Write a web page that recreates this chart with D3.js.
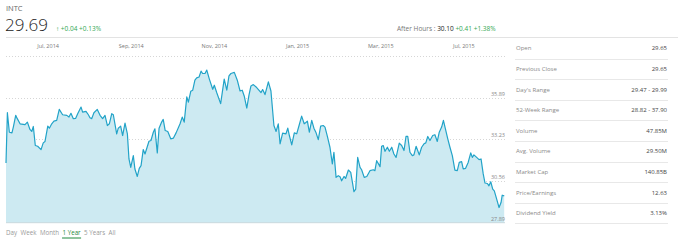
<!DOCTYPE html>
<html>
<head>
<meta charset="utf-8">
<script src="https://cdnjs.cloudflare.com/ajax/libs/d3/7.8.5/d3.min.js"></script>
<style>
  body { margin: 0; background: #fff; }
  svg { font-family: "Open Sans", "Noto Sans", sans-serif; display: block; }
</style>
</head>
<body>
<svg id="chart" width="678" height="245"></svg>
<script>
// trading day index (0 = first day shown) and closing price
const days = [0,0.7,1.7,3,3.7,4.9,5.7,7.1,9.6,10.8,12.1,13,13.8,14.8,16,17.7,18.8,19.7,21.1,21.9,
  23.1,24.2,25.6,26.9,28.6,30.7,31.8,32.8,34,35.2,36.2,37.9,38.7,40.4,41.6,42.4,43.3,44.4,46.1,47.5,
  48.8,50,51.2,52.2,53.4,54.2,55.9,56.7,57.9,58.9,60.1,61.3,62.1,63,64.3,65.1,66.3,67.3,68.2,69.3,
  70.2,72.2,73.2,74.4,75.2,76.4,77.3,78.6,79.4,80.4,81.7,83.2,84.5,85.9,87.9,89,90,91.3,92.1,93.3,
  94.3,95.4,96.3,97.5,98.5,99.3,100.5,101.4,102.7,104.4,105.2,106.4,108.4,110.2,111.5,112.6,113.6,115.3,116.8,118.2,
  119.3,120.3,121.6,122.7,123.7,124.9,126.6,128.8,129.6,130.8,132.5,133.8,135.3,136.4,137.5,138.4,139.7,141.4,142.3,143.1,
  144.3,145.6,146.8,148,149.3,150.6,151.3,152.2,153.2,154.4,155.5,156.6,157.7,158.9,160.2,161.1,162.3,163.6,164.8,165.6,
  166.7,167.8,168.7,169.5,170.7,171.5,172.9,174.1,175.1,175.7,176.6,177.6,178.8,179.6,180.9,182.2,183.8,185.5,186.3,187.2,
  188.9,189.7,190.5,191.4,192.6,193.6,194.8,195.9,197,198.6,199.8,201,202,202.9,204,205.2,206,207.1,207.9,208.7,
  209.9,211.1,212,213,214.1,215.5,216.6,217.8,218.8,220,220.9,221.7,223.1,224.2,225.4,226.7,227.9,228.9,230.1,230.9,
  232.1,233.4,234.7,235.5,236.3,237.7,238.9,239.9,241,241.9,243.1,243.9,244.8,245.8,246.6,247.8,249,250,250.6,251.6];
const prices = [31.71,34.93,33.68,33.64,34.01,34.76,34.55,34.22,34.17,34.33,33.86,33.73,34.05,32.83,32.78,32.57,33.00,33.09,34.07,33.94,
  34.22,34.39,34.44,35.14,34.80,34.76,34.65,34.89,34.55,34.57,34.87,35.29,34.97,35.02,34.80,34.61,34.55,34.93,35.14,34.76,
  34.55,34.76,34.11,34.22,34.87,34.80,33.58,33.94,34.07,33.47,34.26,33.58,31.97,31.43,32.18,31.33,30.85,31.37,31.54,32.57,
  32.29,33.10,33.15,33.68,33.90,32.36,33.94,34.33,34.50,33.79,33.73,33.26,33.30,33.64,34.22,34.65,34.33,35.94,35.61,36.30,
  36.37,37.01,37.16,37.22,37.59,37.44,37.44,37.66,37.08,36.43,36.69,36.22,35.51,37.08,36.37,37.29,37.44,37.51,37.01,36.32,
  36.37,36.00,35.23,36.05,36.64,36.73,36.54,36.22,36.41,36.09,36.90,36.32,34.11,33.73,34.22,32.94,33.62,33.58,33.94,33.47,
  32.87,33.64,33.58,34.11,34.71,34.22,34.29,34.39,33.68,34.44,33.94,33.64,33.21,34.07,34.11,34.01,33.41,32.72,31.65,32.40,
  30.79,30.90,30.83,30.57,30.85,30.72,31.26,31.11,30.36,29.87,30.04,32.07,31.43,31.28,30.79,30.85,31.22,31.28,31.22,31.86,
  31.48,32.78,32.83,32.46,32.72,32.46,32.72,32.29,32.07,32.98,32.83,32.51,33.41,33.41,32.40,32.18,32.23,32.78,32.51,32.23,
  32.72,32.94,33.00,33.41,33.15,33.47,33.52,33.09,33.68,34.01,34.44,34.01,33.26,32.72,32.18,31.26,31.22,31.75,31.80,31.33,
  31.37,31.75,32.36,32.07,32.23,32.07,31.93,31.97,31.01,30.43,30.40,30.25,30.51,30.04,29.93,29.40,28.86,29.18,29.65,29.61];

const xTickDays = [21, 63, 105, 147, 189, 231];
const xTickLabels = ["Jul, 2014", "Sep, 2014", "Nov, 2014", "Jan, 2015", "Mar, 2015", "Jul, 2015"];
const yTicks = [27.89, 30.56, 33.23, 35.89, 38.56];
const yTickLabels = ["27.89", "30.56", "33.23", "35.89", ""];

const statLabels = ["Open", "Previous Close", "Day's Range", "52-Week Range", "Volume",
  "Avg. Volume", "Market Cap", "Price/Earnings", "Dividend Yield"];
const statValues = ["29.65", "29.65", "29.47 - 29.99", "28.82 - 37.90", "47.85M",
  "29.50M", "140.85B", "12.63", "3.13%"];
const rangeTabs = ["Day", "Week", "Month", "1 Year", "5 Years", "All"];
const activeTab = "1 Year";

const green = "#34a853";
const svg = d3.select("#chart");

// header
svg.append("text").attr("x", 6).attr("y", 11).attr("font-size", 7.5).attr("fill", "#666").text("INTC");
const bigPrice = svg.append("text").attr("x", 5).attr("y", 31).attr("font-size", 17)
  .attr("font-weight", 300).attr("fill", "#222").text("29.69");
const bpW = bigPrice.node().getComputedTextLength();
svg.append("text").attr("x", 5 + bpW + 8).attr("y", 31).attr("font-size", 6.5).attr("fill", green)
  .text("\u2191  +0.04  +0.13%");

const ah = svg.append("text").attr("x", 397).attr("y", 31).attr("font-size", 6.5);
ah.append("tspan").attr("fill", "#777").text("After Hours : ");
ah.append("tspan").attr("fill", "#222").text("30.10 ");
ah.append("tspan").attr("fill", green).text(" +0.41  +1.38%");

svg.append("line").attr("x1", 6).attr("x2", 678).attr("y1", 37.5).attr("y2", 37.5)
  .attr("stroke", "#e3e3e3");

// chart
const margin = { left: 6, right: 173, top: 56, bottom: 23 };
const innerRight = 678 - margin.right;
const innerBottom = 245 - margin.bottom + 0.7;

const xScale = d3.scaleLinear().domain([0, 252]).range([margin.left, innerRight]);
const yScale = d3.scaleLinear().domain([27.89, 38.56]).range([innerBottom, margin.top]);

const data = days.map((d, i) => ({ day: d, price: prices[i] }));

const grid = svg.append("g").attr("class", "grid");
grid.selectAll("line").data(yTicks.slice(1)).join("line")
  .attr("x1", margin.left).attr("x2", innerRight)
  .attr("y1", d => Math.round(yScale(d)) + 0.5).attr("y2", d => Math.round(yScale(d)) + 0.5)
  .attr("stroke", "#d6d6d6").attr("stroke-dasharray", "1,2");

const area = d3.area().x(d => xScale(d.day)).y0(yScale(27.89)).y1(d => yScale(d.price));
const line = d3.line().x(d => xScale(d.day)).y(d => yScale(d.price));

svg.append("path").datum(data).attr("d", area).attr("fill", "#cdeaf2");
svg.append("path").datum(data).attr("d", line).attr("fill", "none")
  .attr("stroke", "#22a3c8").attr("stroke-width", 1.2).attr("stroke-linejoin", "round");

svg.append("line").attr("x1", margin.left).attr("x2", innerRight)
  .attr("y1", innerBottom).attr("y2", innerBottom).attr("stroke", "#c9d9de");

// y labels sit just above their gridline
svg.append("g").selectAll("text").data(yTicks).join("text")
  .attr("x", innerRight).attr("y", d => yScale(d) - 2)
  .attr("text-anchor", "end").attr("font-size", 5.5).attr("fill", "#888")
  .text((d, i) => yTickLabels[i]);

// x labels along the top
const xAxis = d3.axisTop(xScale).tickValues(xTickDays)
  .tickFormat((d, i) => xTickLabels[i]).tickSize(0).tickPadding(0);
const xAxisG = svg.append("g").attr("transform", "translate(0,48)").call(xAxis);
xAxisG.select(".domain").remove();
xAxisG.selectAll("text").attr("font-size", 5.5).attr("fill", "#777")
  .attr("font-family", "'Open Sans', sans-serif");

// stats panel
const rowH = 20.6;
const statsTop = 38;
const stats = svg.append("g").attr("class", "stats");
statLabels.forEach((lab, i) => {
  const cy = statsTop + rowH * i + rowH / 2;
  stats.append("text").attr("x", 516).attr("y", cy + 2).attr("font-size", 6)
    .attr("fill", "#8a8a8a").text(lab);
  stats.append("text").attr("x", 667).attr("y", cy + 2).attr("font-size", 6)
    .attr("text-anchor", "end").attr("fill", "#444").text(statValues[i]);
  stats.append("line").attr("x1", 515).attr("x2", 668)
    .attr("y1", Math.round(statsTop + rowH * (i + 1)) + 0.5)
    .attr("y2", Math.round(statsTop + rowH * (i + 1)) + 0.5)
    .attr("stroke", "#e8e8e8");
});

// range tabs
let tx = 6;
rangeTabs.forEach(t => {
  const el = svg.append("text").attr("x", tx).attr("y", 235).attr("font-size", 6.2)
    .attr("fill", t === activeTab ? "#1f8a3c" : "#999").text(t);
  const w = el.node().getComputedTextLength();
  if (t === activeTab) {
    svg.append("line").attr("x1", tx - 0.5).attr("x2", tx + w + 0.5)
      .attr("y1", 238).attr("y2", 238).attr("stroke", "#1f8a3c").attr("stroke-width", 1);
  }
  tx += w + 3.5;
});
</script>
</body>
</html>
